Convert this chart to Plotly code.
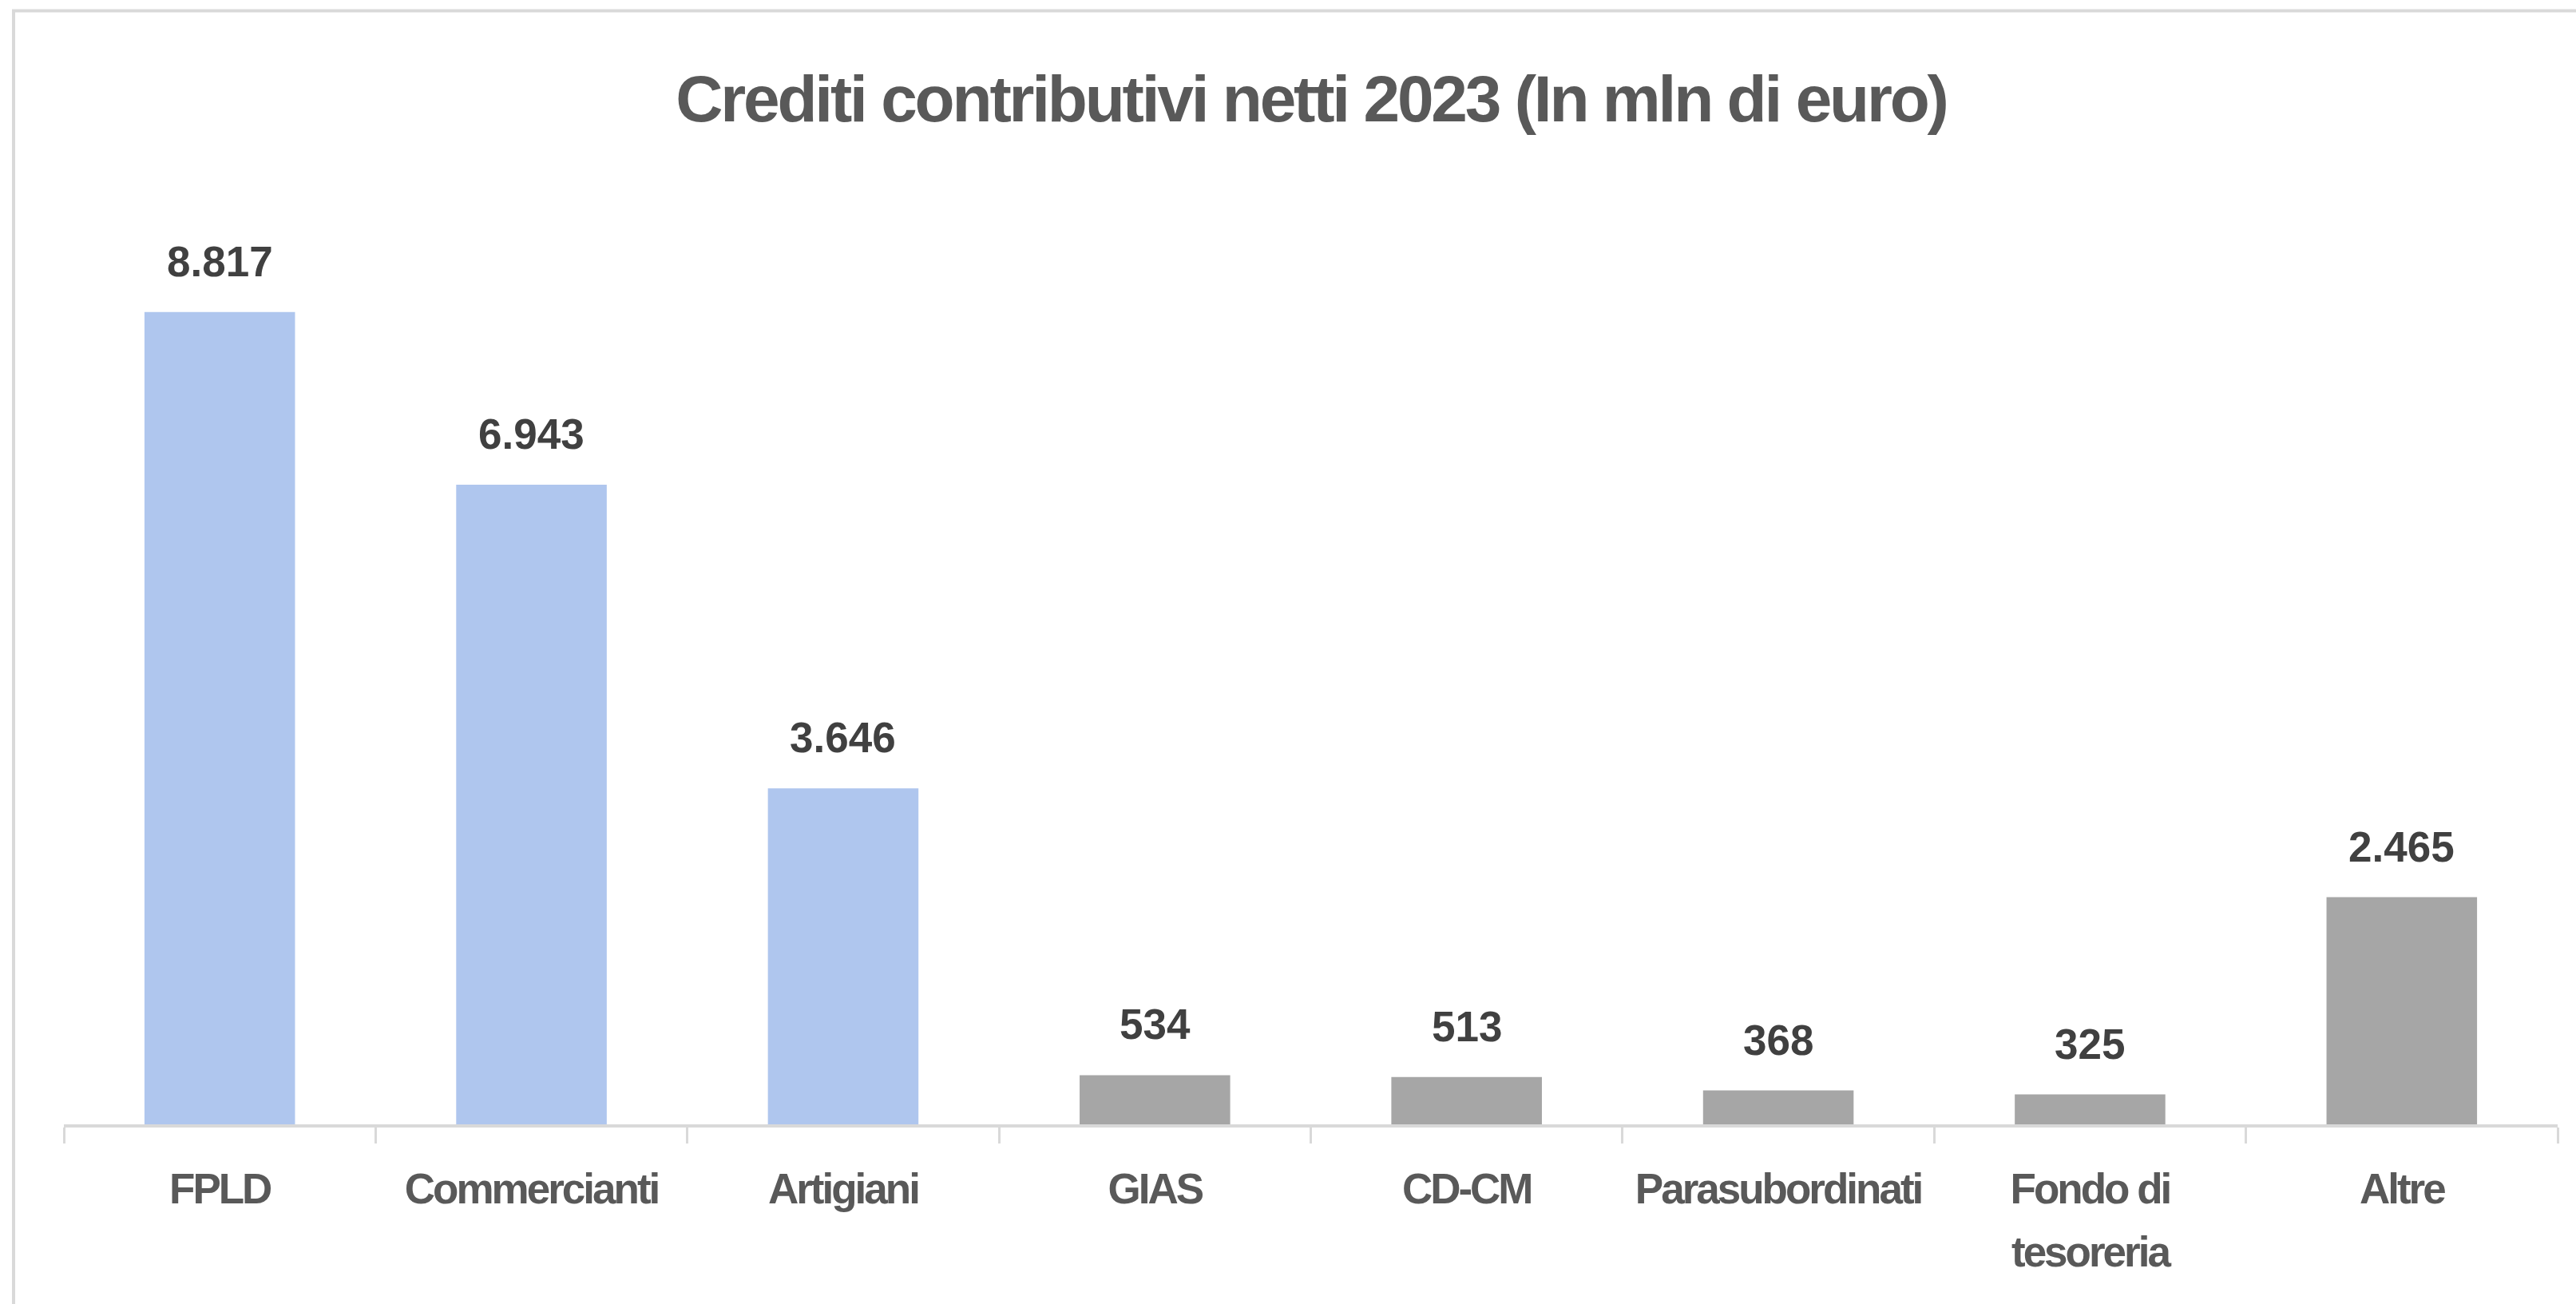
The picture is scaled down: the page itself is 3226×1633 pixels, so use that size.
import plotly.graph_objects as go

# ---- data ----
categories = ["FPLD", "Commercianti", "Artigiani", "GIAS", "CD-CM",
              "Parasubordinati", "Fondo di tesoreria", "Altre"]
tick_labels = ["FPLD", "Commercianti", "Artigiani", "GIAS", "CD-CM",
               "Parasubordinati", "Fondo di<br>tesoreria", "Altre"]
values = [8817, 6943, 3646, 534, 513, 368, 325, 2465]
title_text = "Crediti contributivi netti 2023 (In mln di euro)"

# ---- styles ----
BLUE = "#AFC6EE"
GREY = "#A6A6A6"
bar_colors = [BLUE, BLUE, BLUE, GREY, GREY, GREY, GREY, GREY]
FONT = "Liberation Sans, Arial, Helvetica, sans-serif"

W, H = 3226, 1633
ML, MR, MT, MB = 80, 23, 312, 225
PW = W - ML - MR
PH = H - MT - MB


def px_to_paper_x(px):
    return (px - ML) / PW


def px_to_paper_y(py):
    return (H - MB - py) / PH


def fmt(v):
    return f"{v:,}".replace(",", ".")


fig = go.Figure()
fig.add_trace(go.Bar(
    x=categories,
    y=values,
    marker=dict(color=bar_colors, line=dict(width=0)),
    hoverinfo="skip",
))

annotations = []
for c, v in zip(categories, values):
    annotations.append(dict(
        x=c, y=v, xref="x", yref="y",
        text=fmt(v), showarrow=False,
        yanchor="bottom", xanchor="center", yshift=32,
        font=dict(family=FONT, size=53, color="#404040", weight="bold"),
    ))

# frame (left and top edges visible; right/bottom cut off)
x_left = px_to_paper_x(17)
y_top = px_to_paper_y(13.5)
x_far = px_to_paper_x(W + 60)
y_far = px_to_paper_y(H + 60)
shapes = [dict(
    type="path", xref="paper", yref="paper",
    path=f"M {x_left} {y_far} L {x_left} {y_top} L {x_far} {y_top}",
    line=dict(color="#D9D9D9", width=4),
)]

fig.update_layout(
    width=W, height=H,
    margin=dict(l=ML, r=MR, t=MT, b=MB, pad=0, autoexpand=False),
    paper_bgcolor="white",
    plot_bgcolor="white",
    showlegend=False,
    bargap=0.517,
    title=dict(
        text=title_text,
        x=px_to_paper_x(1642), xref="paper", xanchor="center",
        y=1 - 123 / H, yref="container", yanchor="middle",
        font=dict(family=FONT, size=82, color="#595959", weight="bold"),
    ),
    xaxis=dict(
        tickmode="array",
        tickvals=categories,
        ticktext=tick_labels,
        tickangle=0,
        automargin=False,
        showline=True, linecolor="#D9D9D9", linewidth=4,
        ticks="outside", ticklen=20, tickwidth=3, tickcolor="#D9D9D9",
        tickson="boundaries",
        ticklabelstandoff=31,
        showgrid=False, zeroline=False,
        tickfont=dict(family=FONT, size=53, color="#595959", weight="bold"),
        fixedrange=True,
    ),
    yaxis=dict(
        range=[0, 9500], visible=False, showgrid=False, zeroline=False,
        fixedrange=True, automargin=False,
    ),
    annotations=annotations,
    shapes=shapes,
)

post = """
(function(){
  document.documentElement.style.margin='0';
  document.body.style.margin='0';
  document.body.style.padding='0';
  function tighten(){
    document.querySelectorAll('.gtitle').forEach(function(e){e.style.letterSpacing='-3.2px';});
    document.querySelectorAll('.xtick text').forEach(function(e){e.style.letterSpacing='-3px';});
    document.querySelectorAll('.xtick text tspan.line').forEach(function(t){
      var dy = parseFloat(t.getAttribute('dy') || '0');
      if (dy > 0) { t.setAttribute('dy', '1.49em'); }
    });
  }
  tighten();
  var gd = document.getElementById('{plot_id}');
  if (gd && gd.on) { gd.on('plotly_afterplot', tighten); }
})();
"""

fig.write_html("out.html", config={"displayModeBar": False, "responsive": False},
               post_script=post)
